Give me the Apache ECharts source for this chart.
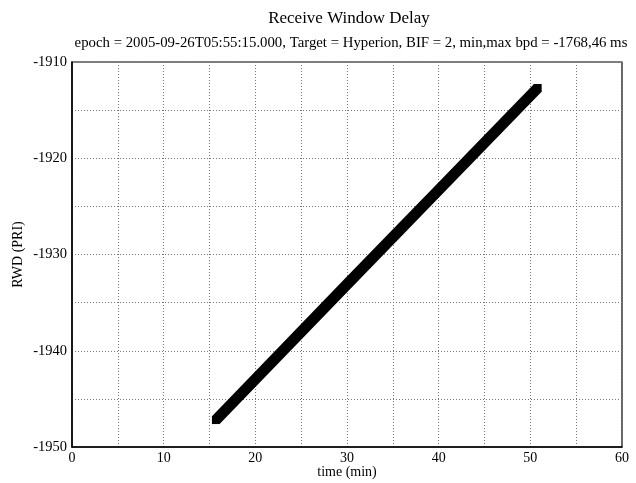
<!DOCTYPE html>
<html><head><meta charset="utf-8">
<script src="https://cdn.jsdelivr.net/npm/echarts@6/dist/echarts.min.js"></script>
<style>html,body{margin:0;padding:0;background:#fff}#c{width:636px;height:483px}</style>
</head><body><div id="c"></div>
<script>
var timeMin = [15.7, 30.0, 40.0, 50.8];
var rwdPri = [-1947.2, -1933.1, -1923.3, -1912.7];
var titleText = 'Receive Window Delay';
var subtitleText = 'epoch = 2005-09-26T05:55:15.000, Target = Hyperion, BIF = 2, min,max bpd = -1768,46 ms';
var xName = 'time (min)';
var yName = 'RWD (PRI)';

var font = '"Liberation Serif", "DejaVu Serif", serif';
var chart = echarts.init(document.getElementById('c'), null, {renderer: 'canvas'});
var last = timeMin.length - 1;
var data = timeMin.map(function (t, i) {
  return {value: [t, rwdPri[i]], symbol: (i === 0 || i === last) ? 'rect' : 'none'};
});
chart.setOption({
  animation: false,
  backgroundColor: '#fff',
  title: [
    {text: titleText, left: 344, top: 5, textAlign: 'center',
     textStyle: {fontFamily: font, fontSize: 17, fontWeight: 'normal', color: '#000'}},
    {text: subtitleText, left: 346, top: 31, textAlign: 'center',
     textStyle: {fontFamily: font, fontSize: 14.8, fontWeight: 'normal', color: '#000'}}
  ],
  grid: {left: 72, right: 14, top: 62, bottom: 36, outerBoundsMode: 'none', containLabel: false,
    show: true, borderColor: '#000', borderWidth: 1.2, backgroundColor: 'transparent'},
  xAxis: {
    type: 'value', min: 0, max: 60, interval: 5,
    name: xName, nameLocation: 'middle', nameGap: 18, nameMoveOverlap: false,
    nameTextStyle: {fontFamily: font, fontSize: 14, color: '#000'},
    axisLine: {show: true, lineStyle: {color: '#000', width: 1.5}},
    axisTick: {show: false},
    axisLabel: {fontFamily: font, fontSize: 14, color: '#000', margin: 4,
      formatter: function (v) { return v % 10 === 0 ? String(v) : ''; }},
    splitLine: {show: true, lineStyle: {color: '#777', type: [1, 2], width: 1}}
  },
  yAxis: {
    type: 'value', min: -1950, max: -1910, interval: 5,
    name: yName, nameLocation: 'middle', nameGap: 47, nameRotate: 90, nameMoveOverlap: false,
    nameTextStyle: {fontFamily: font, fontSize: 14, color: '#000'},
    axisLine: {show: true, lineStyle: {color: '#000', width: 1.5}},
    axisTick: {show: false},
    axisLabel: {fontFamily: font, fontSize: 14.5, color: '#000', margin: 5,
      formatter: function (v) { return v % 10 === 0 ? String(v) : ''; }},
    splitLine: {show: true, lineStyle: {color: '#777', type: [1, 2], width: 1}}
  },
  series: [{
    type: 'line', data: data,
    lineStyle: {color: '#000', width: 11, cap: 'butt', join: 'round'},
    symbolSize: 8, showSymbol: true,
    itemStyle: {color: '#000'}
  }]
});
</script></body></html>
